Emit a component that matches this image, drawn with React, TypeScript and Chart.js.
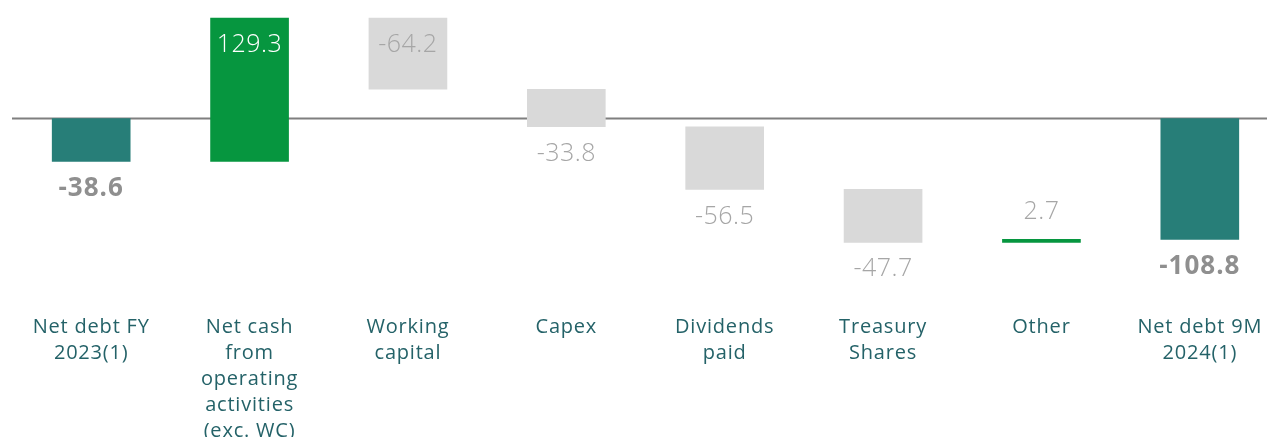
import React, { useEffect, useRef } from "react";
import { Chart, registerables } from "chart.js";

Chart.register(...registerables);

const categories: string[][] = [
  ["Net debt FY", "2023(1)"],
  ["Net cash", "from", "operating", "activities", "(exc. WC)"],
  ["Working", "capital"],
  ["Capex"],
  ["Dividends", "paid"],
  ["Treasury", "Shares"],
  ["Other"],
  ["Net debt 9M", "2024(1)"],
];
const stepValues: number[] = [-38.6, 129.3, -64.2, -33.8, -56.5, -47.7, 2.7, -108.8];
const stepKinds: string[] = ["total", "up", "down", "down", "down", "down", "up", "total"];
const labelPositions: string[] = ["below", "insideTop", "insideTop", "below", "below", "below", "above", "below"];

const TEAL = "#277e78";
const GREEN = "#06963f";
const GREY = "#d9d9d9";

function buildRanges(): [number, number][] {
  const out: [number, number][] = [];
  let run = 0;
  stepValues.forEach((v, i) => {
    if (stepKinds[i] === "total") {
      out.push([0, v]);
      run = v;
    } else {
      out.push([run, run + v]);
      run = run + v;
    }
  });
  return out;
}

const barColors = stepKinds.map((k) =>
  k === "total" ? TEAL : k === "up" ? GREEN : GREY
);

const spacingPlugin = {
  id: "spacing",
  beforeLayout(chart: any) {
    chart.ctx.letterSpacing = "0.8px";
  },
  beforeDraw(chart: any) {
    chart.ctx.letterSpacing = "0.8px";
  },
};

const labelPlugin = {
  id: "wfLabels",
  beforeDatasetsDraw(chart: any) {
    const { ctx, chartArea, scales } = chart;
    const y0 = scales.y.getPixelForValue(0);
    ctx.save();
    ctx.strokeStyle = "#7f7f7f";
    ctx.lineWidth = 2;
    ctx.beginPath();
    ctx.moveTo(chartArea.left, y0);
    ctx.lineTo(chartArea.right, y0);
    ctx.stroke();
    ctx.restore();
  },
  afterDatasetsDraw(chart: any) {
    const { ctx } = chart;
    const meta = chart.getDatasetMeta(0);
    ctx.save();
    ctx.textAlign = "center";
    ctx.textBaseline = "middle";
    meta.data.forEach((el: any, i: number) => {
      const top = Math.min(el.y, el.base);
      const bottom = Math.max(el.y, el.base);
      const pos = labelPositions[i];
      const isTotal = stepKinds[i] === "total";
      if (isTotal) {
        ctx.font = "bold 26px 'Open Sans', sans-serif";
        ctx.letterSpacing = "1px";
      } else {
        ctx.font = "300 25px 'Open Sans', sans-serif";
        ctx.letterSpacing = "0.5px";
      }
      let color = "#a6a6a6";
      if (isTotal) color = "#8f8f8f";
      if (pos === "insideTop" && stepKinds[i] === "up") color = "#ffffff";
      ctx.fillStyle = color;
      let y = bottom + 27;
      if (pos === "insideTop") y = top + 27;
      if (pos === "above") y = top - 27;
      ctx.fillText(stepValues[i].toFixed(1), el.x, y);
    });
    ctx.restore();
  },
};

export default function App() {
  const ref = useRef<HTMLCanvasElement | null>(null);
  useEffect(() => {
    if (!ref.current) return;
    const chart = new Chart(ref.current, {
      type: "bar",
      data: {
        labels: categories as any,
        datasets: [
          {
            data: buildRanges() as any,
            backgroundColor: barColors,
            borderWidth: 0,
            barThickness: 78,
          },
        ],
      },
      options: {
        responsive: false,
        animation: false,
        devicePixelRatio: 1,
        layout: { padding: { left: 4, right: 0, top: 2, bottom: 0 } },
        plugins: {
          legend: { display: false },
          tooltip: { enabled: false },
        },
        scales: {
          x: {
            grid: { display: false },
            border: { display: false },
            ticks: {
              color: "#246268",
              padding: 13,
              maxRotation: 0,
              autoSkip: false,
              font: { family: "'Open Sans', sans-serif", size: 20, lineHeight: 1.3 },
            },
          },
          y: {
            display: false,
            min: -157.2,
            max: 97.9,
          },
        },
      },
      plugins: [spacingPlugin, labelPlugin],
    });
    return () => chart.destroy();
  }, []);
  return (
    <div
      style={{
        position: "fixed",
        top: 8,
        left: 8,
        width: 1259,
        height: 429,
        overflow: "hidden",
      }}
    >
      <canvas ref={ref} width={1271} height={449} style={{ display: "block" }} />
    </div>
  );
}
